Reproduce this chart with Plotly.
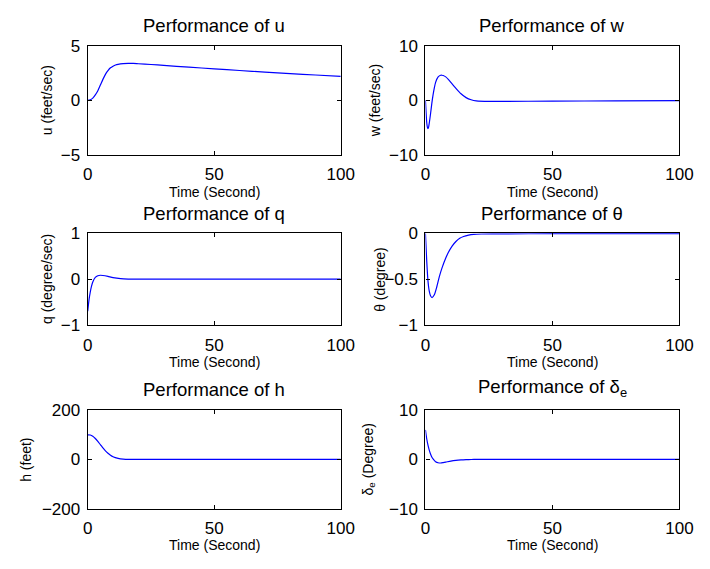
import plotly.graph_objects as go

# ---- simulated state responses (time in seconds) ----
t_u = [0, 1, 2, 3, 4, 5, 6, 7, 8, 9, 10, 11, 12, 14, 16, 18, 20, 25, 30, 40, 50, 60, 70, 80, 90, 100]
u = [0, 0.04, 0.2, 0.5, 0.88, 1.4, 1.92, 2.38, 2.72, 2.98, 3.13, 3.24, 3.3, 3.36, 3.38, 3.38, 3.35,
     3.28, 3.2, 3.04, 2.88, 2.73, 2.59, 2.45, 2.32, 2.2]

t_w = [0, 0.25, 0.5, 0.75, 1, 1.25, 1.5, 2, 2.5, 3, 3.5, 4, 5, 6, 6.5, 7, 8, 9, 10, 12, 14, 16, 18,
       20, 25, 30, 50, 75, 100]
w = [0, -2.2, -4.0, -4.9, -5.2, -4.9, -4.2, -2.5, -0.6, 1.0, 2.3, 3.3, 4.3, 4.6, 4.6, 4.55, 4.3, 3.85,
     3.3, 2.2, 1.2, 0.5, 0.1, -0.1, -0.2, -0.18, -0.15, -0.1, -0.05]

t_q = [0, 0.5, 1, 1.5, 2, 3, 4, 5, 6, 8, 10, 13, 16, 20, 30, 50, 100]
q = [-0.7, -0.45, -0.28, -0.15, -0.06, 0.04, 0.075, 0.085, 0.08, 0.06, 0.035, 0.012, 0.003, 0, 0, 0, 0]

t_theta = [0, 0.5, 1, 1.5, 2, 2.6, 3.5, 4.5, 5.5, 6.5, 8, 9, 10.5, 12, 13.5, 15, 17, 19, 22, 30, 50, 100]
theta = [0, -0.3, -0.52, -0.63, -0.68, -0.70, -0.67, -0.58, -0.47, -0.38, -0.27, -0.21, -0.14, -0.09,
         -0.055, -0.035, -0.02, -0.012, -0.008, -0.006, -0.005, -0.005]

t_h = [0, 1, 2, 3, 4, 5, 6, 7, 8, 9, 10, 12, 14, 17, 20, 30, 50, 100]
h = [100, 99, 94, 85, 73, 60, 47, 35, 25, 17, 11, 4.5, 1.5, 0.3, 0, 0, 0, 0]

t_de = [0, 0.5, 1, 1.5, 2, 2.5, 3, 4, 5, 6, 7, 8, 10, 12, 14, 16, 18, 20, 30, 50, 100]
delta_e = [6.0, 4.2, 2.9, 1.9, 1.1, 0.5, 0.1, -0.45, -0.68, -0.72, -0.65, -0.55, -0.33, -0.18, -0.09,
           -0.04, -0.01, 0, 0, 0, 0]

titles = ["Performance of u", "Performance of w", "Performance of q",
          "Performance of θ", "Performance of h", "Performance of δ<sub>e</sub>"]
ylabels = ["u (feet/sec)", "w (feet/sec)", "q (degree/sec)",
           "θ (degree)", "h (feet)", "δ<sub>e</sub> (Degree)"]
xlabel = "Time (Second)"
x_ticks = [0, 50, 100]
y_ticks = [[-5, 0, 5], [-10, 0, 10], [-1, 0, 1], [-1, -0.5, 0], [-200, 0, 200], [-10, 0, 10]]
series = [(t_u, u), (t_w, w), (t_q, q), (t_theta, theta), (t_h, h), (t_de, delta_e)]

# ---- page geometry (pixels) ----
W, H = 710, 569
rows_px = [(38, 151), (232, 327), (415, 517)]
cols_px = [(85, 345), (432, 693)]
ylabel_x_px = [43, 381, 43, 385, 22, 374]

FONT = "Liberation Sans, Arial, Helvetica, sans-serif"

fig = go.Figure()
layout = dict(
    width=W, height=H, margin=dict(l=0, r=0, t=0, b=0),
    paper_bgcolor="white", plot_bgcolor="white", showlegend=False,
    font=dict(family=FONT, color="black"),
)
annotations = []

for i, ((tx, ty), ttl, yl, yt) in enumerate(zip(series, titles, ylabels, y_ticks)):
    r, c = divmod(i, 2)
    top, bot = rows_px[r]
    left, right = cols_px[c]
    xa = "xaxis" if i == 0 else f"xaxis{i + 1}"
    ya = "yaxis" if i == 0 else f"yaxis{i + 1}"
    xr = "x" if i == 0 else f"x{i + 1}"
    yr = "y" if i == 0 else f"y{i + 1}"

    fig.add_trace(go.Scatter(
        x=tx, y=ty, mode="lines", xaxis=xr, yaxis=yr,
        line=dict(color="#0000ff", width=1.2, shape="spline", smoothing=0.6),
        hoverinfo="skip",
    ))

    common = dict(showline=True, linecolor="black", linewidth=1.2, mirror="ticks",
                  ticks="inside", ticklen=4, tickwidth=1, tickcolor="black",
                  showgrid=False, zeroline=False, tickfont=dict(size=17, family=FONT))
    layout[xa] = dict(common, domain=[left / W, right / W], range=[0, 100],
                      tickvals=x_ticks, anchor=yr, ticklabelstandoff=4)
    layout[ya] = dict(common, domain=[1 - bot / H, 1 - top / H],
                      range=[yt[0], yt[-1]], tickvals=yt, anchor=xr, ticklabelstandoff=3)

    xc = (left + right) / 2 / W
    annotations.append(dict(text=ttl, x=xc, y=1 - (top - 8) / H, xref="paper", yref="paper",
                            xanchor="center", yanchor="bottom", showarrow=False,
                            font=dict(size=18.5, family=FONT)))
    annotations.append(dict(text=xlabel, x=xc, y=1 - (bot + 38) / H, xref="paper", yref="paper",
                            xanchor="center", yanchor="middle", showarrow=False,
                            font=dict(size=14, family=FONT)))
    annotations.append(dict(text=yl, x=ylabel_x_px[i] / W, y=1 - (top + bot) / 2 / H,
                            xref="paper", yref="paper", xanchor="center", yanchor="middle",
                            textangle=-90, showarrow=False, font=dict(size=14, family=FONT)))

layout["annotations"] = annotations
fig.update_layout(**layout)
fig.write_html("out.html")
